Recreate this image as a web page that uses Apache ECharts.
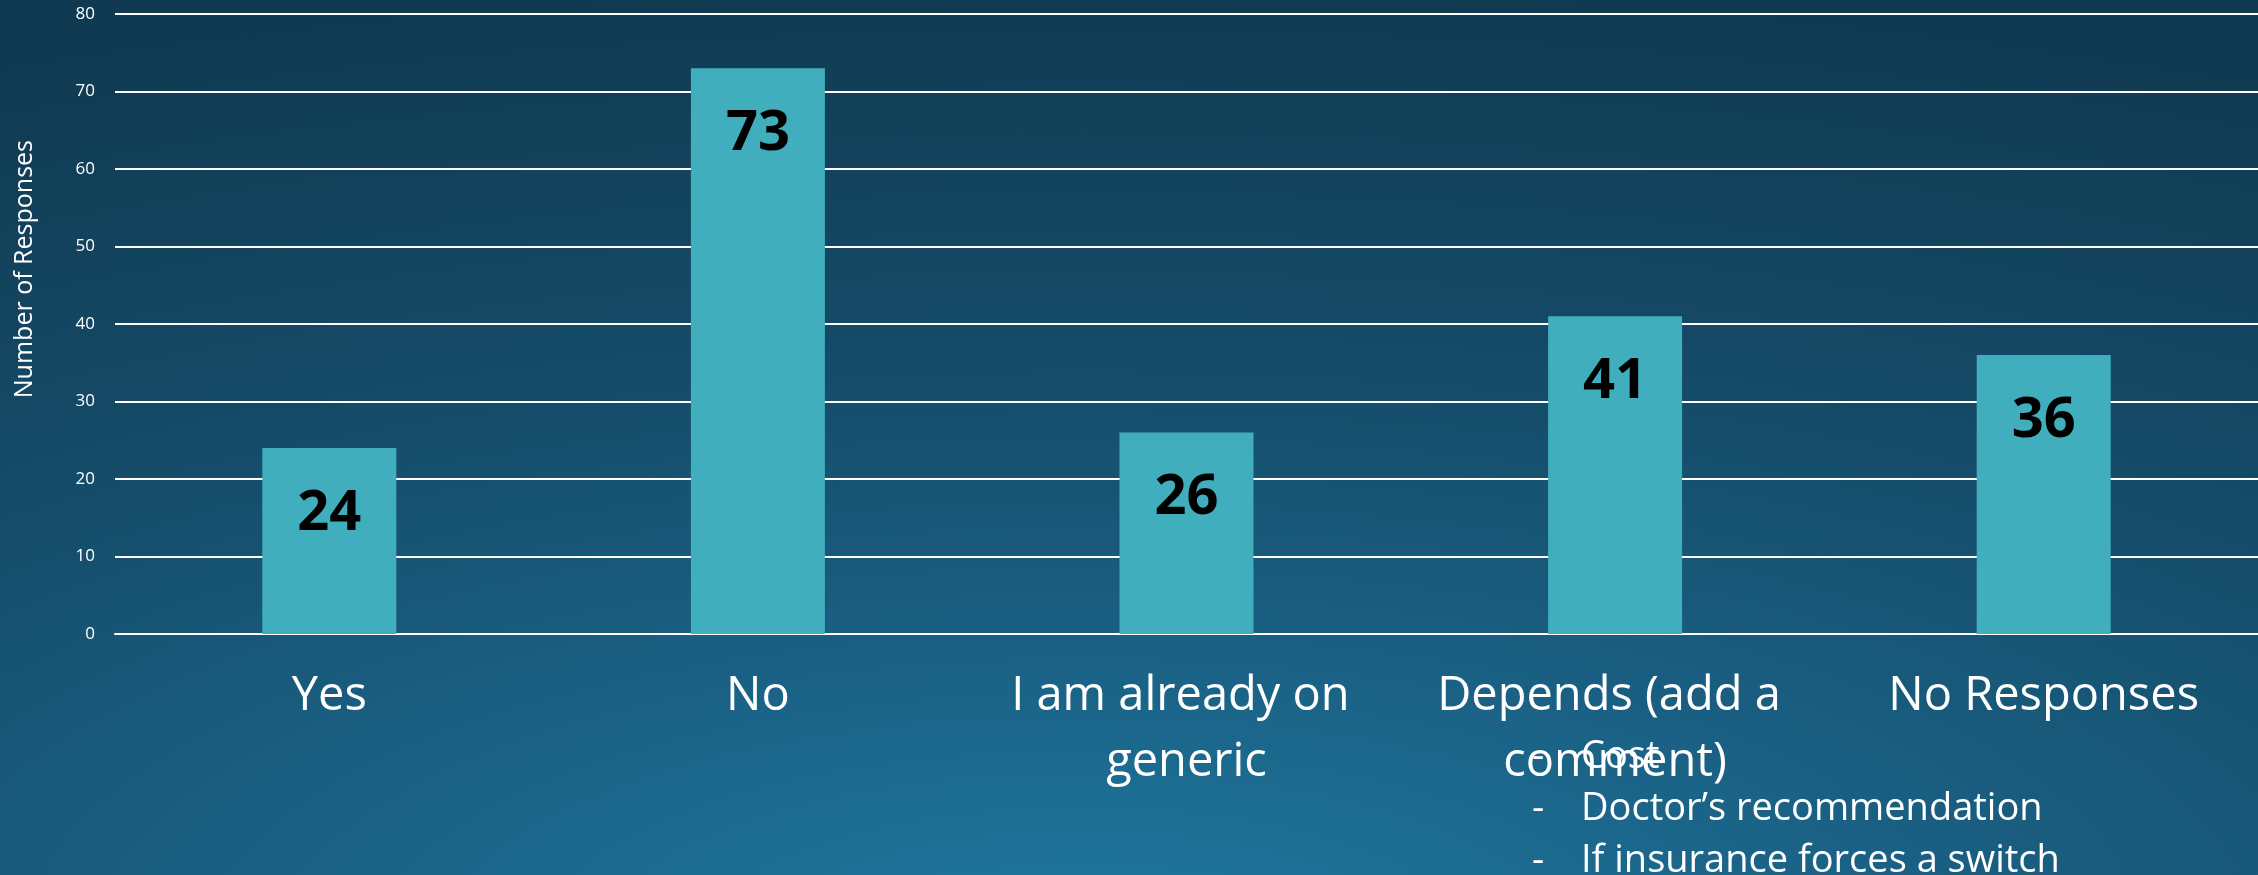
<!DOCTYPE html>
<html>
<head>
<meta charset="utf-8">
<script src="https://cdn.jsdelivr.net/npm/echarts@6/dist/echarts.min.js"></script>
<style>
html,body{margin:0;padding:0;width:2258px;height:875px;overflow:hidden;}
body{background:radial-gradient(ellipse 120% 110% at 48% 108%, #2079a0 0%, #1a6185 30%, #154c69 60%, #103a52 100%);}
#chart{width:2258px;height:875px;}
</style>
</head>
<body>
<div id="chart"></div>
<script>
const categories = ["Yes", "No", "I am already on generic", "Depends (add a comment)", "No Responses"];
const responses = [24, 73, 26, 41, 36];
const yTicks = [0, 10, 20, 30, 40, 50, 60, 70, 80];
const yAxisTitle = "Number of Responses";
const commentLines = ["Cost", "Doctor\u2019s recommendation", "If insurance forces a switch"];

const chart = echarts.init(document.getElementById('chart'));
const labelFont = '"Open Sans", sans-serif';

const graphics = [{
  type: 'text',
  left: 12, top: 140,
  rotation: Math.PI / 2,
  style: { text: yAxisTitle, fill: '#ffffff', font: '25px ' + labelFont }
}];
commentLines.forEach(function (t, i) {
  graphics.push({ type: 'text', left: 1532, top: 738 + i * 52,
    style: { text: '-', fill: '#ffffff', font: '38px ' + labelFont } });
  graphics.push({ type: 'text', left: 1581, top: 738 + i * 52,
    style: { text: t, fill: '#ffffff', font: '38px ' + labelFont } });
});

chart.setOption({
  backgroundColor: 'transparent',
  animation: false,
  grid: { left: 115, right: 0, top: 14, bottom: 241 },
  xAxis: {
    type: 'category',
    data: categories,
    axisLine: { show: true, lineStyle: { color: '#ffffff', width: 2 } },
    axisTick: { show: false },
    axisLabel: {
      color: '#ffffff', fontFamily: labelFont, fontSize: 47, lineHeight: 66,
      margin: 30, interval: 0, width: 400, overflow: 'break'
    }
  },
  yAxis: {
    type: 'value',
    min: yTicks[0], max: yTicks[yTicks.length - 1], interval: 10,
    axisLine: { show: false },
    axisTick: { show: false },
    axisLabel: { color: '#ffffff', fontFamily: labelFont, fontSize: 17, margin: 20 },
    splitLine: { lineStyle: { color: '#ffffff', width: 2 } }
  },
  series: [{
    type: 'bar',
    data: responses,
    barWidth: 134,
    itemStyle: { color: '#40aebd' },
    label: {
      show: true, position: 'insideTop', distance: 38,
      color: '#000000', fontFamily: labelFont, fontWeight: 'bold', fontSize: 56
    }
  }],
  graphic: graphics
});
</script>
</body>
</html>
